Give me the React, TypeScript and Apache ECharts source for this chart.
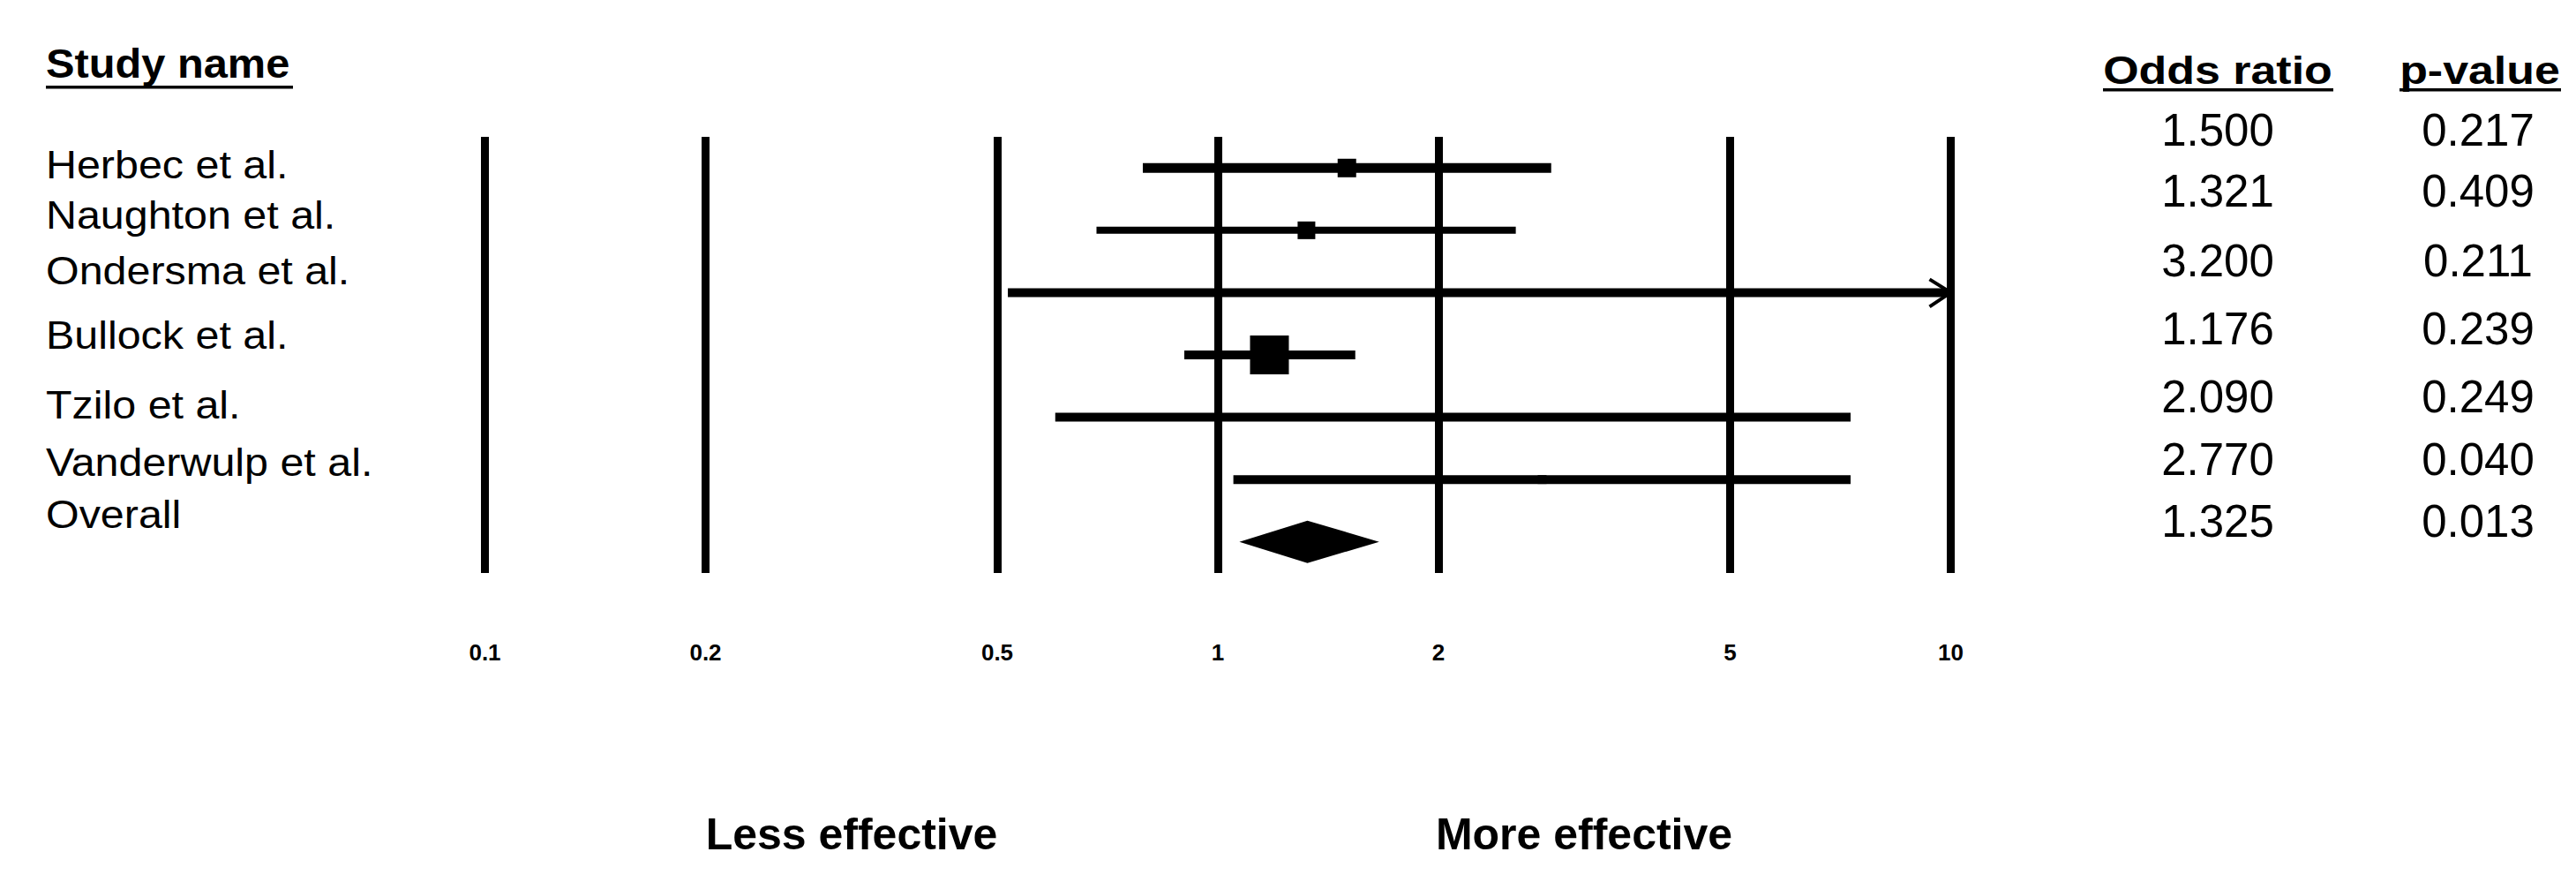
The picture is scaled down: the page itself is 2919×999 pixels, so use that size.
import React, { useEffect, useRef } from "react";
import * as echarts from "echarts";

// ---------- data ----------
const STUDIES = [
  "Herbec et al.",
  "Naughton et al.",
  "Ondersma et al.",
  "Bullock et al.",
  "Tzilo et al.",
  "Vanderwulp et al.",
  "Overall",
];
const ODDS_RATIO = [1.5, 1.321, 3.2, 1.176, 2.09, 2.77, 1.325];
const LOWER_CI = [0.79, 0.683, 0.517, 0.9, 0.6, 1.05, 1.07];
const UPPER_CI = [2.85, 2.55, 19.8, 1.54, 7.3, 7.3, 1.66];
const P_VALUES = [0.217, 0.409, 0.211, 0.239, 0.249, 0.04, 0.013];
const X_TICKS = [0.1, 0.2, 0.5, 1, 2, 5, 10];
const X_MIN = 0.1;
const X_MAX = 10;

// ---------- layout / style ----------
const FONT = "'Liberation Sans', Arial, Helvetica, sans-serif";
const NARROW = "'Liberation Sans Narrow', 'Liberation Sans', Arial, sans-serif";
const LINE_WIDTHS = [11, 8, 10, 10, 10, 10, 0];
const SQUARE_SIZES = [21, 20, 0, 44, 0, 10, 0];
const NAME_Y = [187, 244, 307, 380, 459, 524, 583];
const NUM_Y = [147, 216, 295, 372, 449, 520, 590];
const GRID = { left: 549.5, right: 708.5, top: 155, bottom: 350 };

export default function App() {
  const ref = useRef<HTMLDivElement>(null);

  useEffect(() => {
    if (!ref.current) return;
    const chart = echarts.init(ref.current, undefined, { renderer: "svg" });

    const lastIdx = STUDIES.length - 1;

    const renderItem = (params: any, api: any) => {
      const i = api.value(0);
      const lo = api.value(1);
      const hi = api.value(2);
      const or = api.value(3);
      const [xl, y] = api.coord([lo, i]);
      const [xh] = api.coord([Math.min(hi, X_MAX), i]);
      const [xo] = api.coord([or, i]);
      if (i === lastIdx) {
        return {
          type: "polygon",
          shape: {
            points: [
              [xl, y],
              [xo, y - 24],
              [xh, y],
              [xo, y + 24],
            ],
          },
          style: { fill: "#000" },
        };
      }
      const children: any[] = [
        {
          type: "line",
          shape: { x1: xl, y1: y, x2: hi > X_MAX ? xh - 4 : xh, y2: y },
          style: { stroke: "#000", lineWidth: LINE_WIDTHS[i] },
        },
      ];
      const s = SQUARE_SIZES[i];
      if (s > 0) {
        children.push({
          type: "rect",
          shape: { x: xo - s / 2, y: y - s / 2, width: s, height: s },
          style: { fill: "#000" },
        });
      }
      if (hi > X_MAX) {
        children.push({
          type: "polyline",
          shape: {
            points: [
              [xh - 24, y - 15],
              [xh, y],
              [xh - 24, y + 16],
            ],
          },
          style: { stroke: "#000", lineWidth: 4, fill: "none" },
        });
      }
      return { type: "group", children };
    };

    const graphics: any[] = [];
    const txt = (
      text: string,
      x: number,
      y: number,
      size: number,
      weight: string,
      align: string,
      scaleX = 1
    ) => ({
      type: "text",
      x,
      y,
      scaleX,
      silent: true,
      style: {
        text,
        fontSize: size,
        fontWeight: weight,
        fontFamily: FONT,
        fill: "#000",
        align,
        verticalAlign: "middle",
        textAlign: align,
        textVerticalAlign: "middle",
      },
    });

    // headers
    graphics.push(txt("Study name", 52, 71.5, 46, "bold", "left", 1.06));
    graphics.push(txt("Odds ratio", 2513, 79, 44, "bold", "center", 1.18));
    graphics.push(txt("p-value", 2810, 79, 44, "bold", "center", 1.18));
    graphics.push({ type: "rect", shape: { x: 52, y: 97, width: 280, height: 3.5 }, style: { fill: "#000" } });
    graphics.push({ type: "rect", shape: { x: 2383, y: 100, width: 261, height: 3.5 }, style: { fill: "#000" } });
    graphics.push({ type: "rect", shape: { x: 2719, y: 100, width: 183, height: 3.5 }, style: { fill: "#000" } });

    STUDIES.forEach((name, i) => {
      graphics.push(txt(name, 52, NAME_Y[i], 44, "normal", "left", 1.1));
      graphics.push(txt(ODDS_RATIO[i].toFixed(3), 2513, NUM_Y[i], 51, "normal", "center"));
      graphics.push(txt(P_VALUES[i].toFixed(3), 2808, NUM_Y[i], 51, "normal", "center"));
    });

    graphics.push(txt("Less effective", 965, 945, 50, "bold", "center"));
    graphics.push(txt("More effective", 1795, 945, 50, "bold", "center"));

    chart.setOption({
      animation: false,
      backgroundColor: "#fff",
      grid: GRID,
      xAxis: {
        type: "log",
        logBase: 10,
        min: X_MIN,
        max: X_MAX,
        axisLine: { show: false },
        axisTick: { show: false },
        splitLine: { show: false },
        axisLabel: {
          show: true,
          customValues: X_TICKS,
          margin: 77,
          fontSize: 26,
          fontWeight: "bold",
          fontFamily: NARROW,
          color: "#000",
          formatter: (v: number) => String(+Number(v).toPrecision(3)),
        },
      },
      yAxis: {
        type: "category",
        inverse: true,
        data: STUDIES,
        show: false,
      },
      graphic: graphics,
      series: [
        {
          type: "custom",
          renderItem,
          clip: false,
          encode: { x: [1, 2, 3], y: 0 },
          data: STUDIES.map((_, i) => [i, LOWER_CI[i], UPPER_CI[i], ODDS_RATIO[i]]),
          markLine: {
            silent: true,
            symbol: ["none", "none"],
            label: { show: false },
            lineStyle: { color: "#000", width: 9, type: "solid" },
            data: X_TICKS.map((v) => ({ xAxis: v })),
          },
        },
      ],
    });

    return () => chart.dispose();
  }, []);

  return (
    <div
      ref={ref}
      style={{ position: "absolute", left: 0, top: 0, width: 2919, height: 999, background: "#fff" }}
    />
  );
}
